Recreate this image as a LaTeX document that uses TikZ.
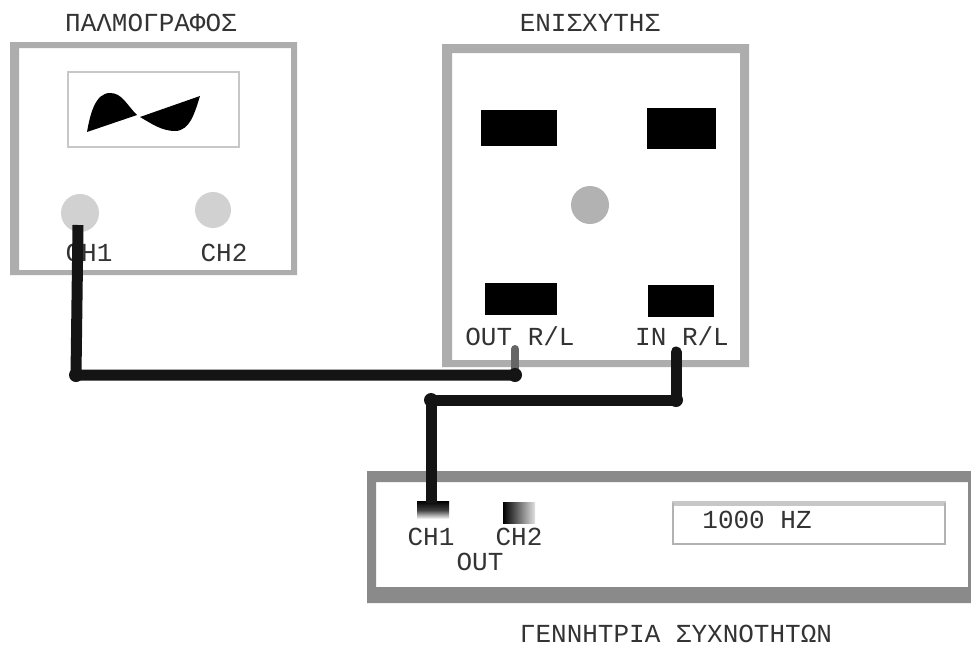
\documentclass[tikz,border=0pt]{standalone}
\usepackage{fontspec}
\setmainfont{Liberation Mono}
\definecolor{txt}{HTML}{333333}
\tikzset{
 lbl/.style={font=\fontsize{26}{28}\selectfont,text=txt,inner sep=0pt,anchor=center},
 casing/.style={fill=black!32,even odd rule},
 knob/.style={circle,inner sep=0pt,minimum size=#1,fill=black!18},
 knob/.default=37pt,
 blackkey/.style={fill=black,draw=none},
 wire/.style={draw=black!92,line width=11pt,line join=round},
 stub/.style={draw=black!60,line width=8pt,line cap=round},
 dot/.style={circle,fill=black!92,inner sep=0pt,minimum size=14pt},
}
\begin{document}
\begin{tikzpicture}[x=1pt,y=-1pt]
\useasboundingbox (0,0) rectangle (971,648);
\fill[white] (0,0) rectangle (971,648);
% oscilloscope
\fill[casing] (10,42) rectangle (297,275) (19,48) rectangle (291,270);
\draw[black!22,line width=2.5pt] (68,72) rectangle (239,147);
\fill[black] (87,132) .. controls (90,115) and (95,93) .. (110,93) .. controls (122,93) and (126,104) .. (137,115) -- cycle;
\fill[black] (140,117) -- (200,96) .. controls (195,112) and (190,131) .. (175,131) .. controls (162,131) and (152,124) .. (140,117) -- cycle;
\node[knob=38pt] (ch1knob) at (80,213) {};
\node[knob=36pt] (ch2knob) at (213,210) {};
\node[lbl] (title1) at (151,23) {ΠΑΛΜΟΓΡΑΦΟΣ};
\node[lbl] (scch1) at (89,253) {CH1};
\node[lbl] (scch2) at (224,253) {CH2};
% amplifier
\fill[casing] (442,44) rectangle (749,367) (452,53) rectangle (740,360);
\fill[blackkey] (481,110) rectangle (557,146);
\fill[blackkey] (647,108) rectangle (716,149);
\fill[blackkey] (485,283) rectangle (557,315);
\fill[blackkey] (648,285) rectangle (714,317);
\node[knob=38pt,fill=black!30] (ampknob) at (590,205) {};
\node[lbl] (title2) at (590,23) {ΕΝΙΣΧΥΤΗΣ};
\node[lbl] (outrl) at (520,336) {OUT R/L};
\node[lbl] (inrl) at (682,336) {IN R/L};
% generator
\fill[black!46,even odd rule] (367,471) rectangle (975,603) (376,482) rectangle (968,587);
\shade[top color=black,bottom color=white,middle color=black!75] (417,501) rectangle (449,519);
\shade[left color=black,right color=black!12] (503,502) rectangle (535,523);
\draw[black!22,line width=5pt] (672,503.5) -- (946,503.5);
\draw[black!30,line width=2pt] (673,503) -- (673,544) -- (945,544) -- (945,503);
\node[lbl] (genout1) at (431,537) {CH1};
\node[lbl] (genout2) at (519,537) {CH2};
\node[lbl] (genout) at (480,562) {OUT};
\node[lbl] (freq) at (757,520) {1000 HZ};
\node[lbl] (title3) at (676,634) {ΓΕΝΝΗΤΡΙΑ ΣΥΧΝΟΤΗΤΩΝ};
% connectors
\coordinate (w1a) at (78,225);
\coordinate (w1b) at (76,375);
\coordinate (w1c) at (515,375);
\coordinate (w1d) at (515,349);
\coordinate (w2a) at (676,352);
\coordinate (w2b) at (676,400);
\coordinate (w2c) at (431,400);
\coordinate (w2d) at (431,503);
\draw[stub] (w1c) -- (w1d);
\draw[wire] (w1a) -- (w1b) -- (w1c);
\draw[wire,line cap=round] (w2a) -- (w2b);
\draw[wire] (w2b) -- (w2c) -- (w2d);
\node[dot] at (w1c) {};
\node[dot] at (w2b) {};
\node[dot] at (w1b) {};
\node[dot] at (w2c) {};
\end{tikzpicture}
\end{document}
